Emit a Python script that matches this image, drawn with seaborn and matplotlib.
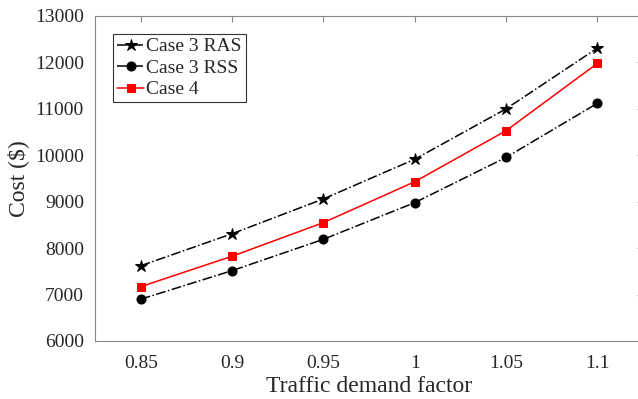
import pandas as pd
import seaborn as sns
import matplotlib.pyplot as plt

# --- data ---
demand_factor = [0.85, 0.9, 0.95, 1.0, 1.05, 1.1]
tick_labels = ["0.85", "0.9", "0.95", "1", "1.05", "1.1"]
case3_ras = [7620, 8310, 9060, 9915, 11000, 12310]
case3_rss = [6900, 7515, 8190, 8980, 9955, 11120]
case4 = [7170, 7825, 8550, 9430, 10530, 11980]

sns.set_style("white")
plt.rcParams["font.family"] = ["Liberation Serif", "DejaVu Serif"]

fig = plt.figure(figsize=(6.38, 3.99), dpi=100)
ax = fig.add_axes([0.149, 0.1454, 0.859, 0.8145])

series = [
    ("Case 3 RAS", case3_ras, "black", "*", "-.", 9),
    ("Case 3 RSS", case3_rss, "black", "o", "-.", 6.5),
    ("Case 4", case4, "red", "s", "-", 6),
]
for name, vals, col, mk, ls, ms in series:
    df = pd.DataFrame({"x": demand_factor, "y": vals})
    sns.lineplot(data=df, x="x", y="y", ax=ax, color=col, marker=mk,
                 linestyle=ls, linewidth=1.1, markersize=ms,
                 markeredgecolor=col, label=name)

ax.set_xlim(0.825, 1.125)
ax.set_ylim(6000, 13000)
ax.set_xticks(demand_factor)
ax.set_xticklabels(tick_labels)
ax.set_yticks(range(6000, 13001, 1000))
ax.tick_params(direction="in", length=4, color="#888888", labelsize=14,
               top=True, right=True, pad=8)
ax.tick_params(axis="x", pad=10)
for s in ax.spines.values():
    s.set_color("#888888")
    s.set_linewidth(0.8)

ax.set_xlabel("Traffic demand factor", fontsize=17, labelpad=3)
ax.set_ylabel("Cost ($)", fontsize=17, labelpad=4)

leg = ax.legend(loc="upper left", bbox_to_anchor=(0.033, 0.945), fontsize=14,
                frameon=True, fancybox=False, edgecolor="black",
                handlelength=1.4, handletextpad=0.1, borderpad=0.2,
                labelspacing=0.2, borderaxespad=0)
leg.get_frame().set_linewidth(0.8)

fig.savefig("out.png", dpi=100)
plt.close(fig)
